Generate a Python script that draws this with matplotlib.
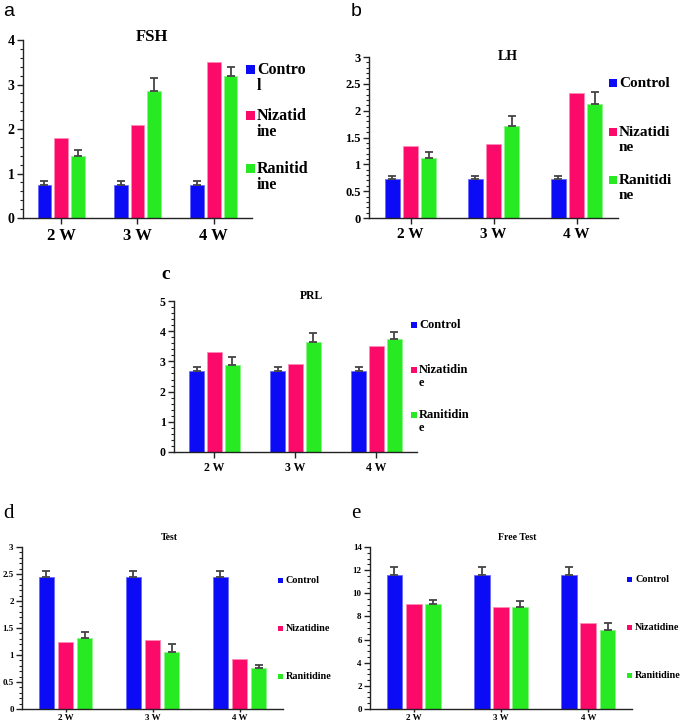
import matplotlib
matplotlib.use('Agg')
import matplotlib.pyplot as plt
from matplotlib.patches import Rectangle
from matplotlib.ticker import MultipleLocator, FuncFormatter
import numpy as np

W, H = 685, 724

weeks = ['2 W', '3 W', '4 W']
colors = ['#0b0bf5', '#fc0a6a', '#28ea23']
edge_colors = ['#6a6aff', '#ff8ab5', '#8af585']

# values per group (Control, Nizatidine, Ranitidine) over 2 W, 3 W, 4 W
fsh_control = [0.75, 0.75, 0.75]
fsh_nizatidine = [1.80, 2.10, 3.50]
fsh_ranitidine = [1.40, 2.85, 3.18]
fsh_control_err = [0.08, 0.08, 0.08]
fsh_ranitidine_err = [0.13, 0.30, 0.22]

lh_control = [0.73, 0.73, 0.73]
lh_nizatidine = [1.35, 1.38, 2.33]
lh_ranitidine = [1.11, 1.71, 2.12]
lh_control_err = [0.05, 0.05, 0.05]
lh_ranitidine_err = [0.12, 0.19, 0.23]

prl_control = [2.68, 2.68, 2.68]
prl_nizatidine = [3.30, 2.90, 3.50]
prl_ranitidine = [2.88, 3.63, 3.75]
prl_control_err = [0.12, 0.12, 0.12]
prl_ranitidine_err = [0.28, 0.32, 0.22]

test_control = [2.45, 2.45, 2.45]
test_nizatidine = [1.25, 1.27, 0.92]
test_ranitidine = [1.32, 1.06, 0.76]
test_control_err = [0.11, 0.11, 0.11]
test_ranitidine_err = [0.10, 0.14, 0.05]

ftest_control = [11.55, 11.55, 11.55]
ftest_nizatidine = [9.10, 8.85, 7.45]
ftest_ranitidine = [9.08, 8.85, 6.85]
ftest_control_err = [0.70, 0.70, 0.70]
ftest_ranitidine_err = [0.34, 0.45, 0.55]

SERIF = 'Liberation Serif'


def rect(left, top, right, bottom):
    # pixel box -> figure fraction
    return [left / W, 1 - bottom / H, (right - left) / W, (bottom - top) / H]


def fx(x):
    return x / W


def fy(y):
    return 1 - y / H


def draw_panel(ax, series, errs, ylim, major, minor, fs_y, fs_x, small=False):
    x = np.arange(3) + 0.5
    step, width = 0.22, 0.18
    for i, vals in enumerate(series):
        pos = x + (i - 1) * step
        ax.bar(pos, vals, width, color=colors[i], edgecolor=edge_colors[i],
               linewidth=0.6, zorder=2)
        if errs[i] is not None:
            ax.errorbar(pos, vals, yerr=[np.zeros(3), errs[i]], fmt='none',
                        ecolor='#444444', elinewidth=1.3, capsize=3,
                        capthick=1.3, zorder=3)
    ax.set_xlim(0, 3)
    ax.set_ylim(*ylim)
    ax.yaxis.set_major_locator(MultipleLocator(major))
    ax.yaxis.set_minor_locator(MultipleLocator(minor))
    ax.yaxis.set_major_formatter(FuncFormatter(lambda v, p: '{:g}'.format(v)))
    ax.set_xticks(x)
    ax.set_xticklabels(weeks)
    for s in ['top', 'right']:
        ax.spines[s].set_visible(False)
    for s in ['left', 'bottom']:
        ax.spines[s].set_color('#222222')
        ax.spines[s].set_linewidth(1.0)
    ax.tick_params(axis='y', which='major', length=4, width=1, colors='#222222', pad=2)
    ax.tick_params(axis='y', which='minor', length=2, width=0.8, colors='#222222')
    if small:
        ax.tick_params(axis='x', length=2.5, width=1, colors='#222222', pad=1)
    else:
        ax.tick_params(axis='x', length=4, width=1, colors='#222222', pad=3)
    for lab in ax.get_yticklabels():
        lab.set_fontfamily(SERIF)
        lab.set_fontweight('bold')
        lab.set_fontsize(fs_y)
        lab.set_color('black')
    for lab in ax.get_xticklabels():
        lab.set_fontfamily(SERIF)
        lab.set_fontweight('bold')
        lab.set_fontsize(fs_x)
        lab.set_color('black')


def draw_title(fig, text, xc, yc, fs):
    fig.text(fx(xc), fy(yc), text, ha='center', va='center',
             fontfamily=SERIF, fontweight='bold', fontsize=fs)


def draw_legend(fig, labels, sq_x, sq_w, text_x, baselines, fs, gap):
    for i, (lab, yb) in enumerate(zip(labels, baselines)):
        fig.add_artist(Rectangle((fx(sq_x), fy(yb)), sq_w / W, sq_w / H,
                                 transform=fig.transFigure,
                                 facecolor=colors[i], edgecolor='none'))
        for k, line in enumerate(lab.split('\n')):
            fig.text(fx(text_x), fy(yb + k * gap), line, ha='left',
                     va='baseline', fontfamily=SERIF, fontweight='bold',
                     fontsize=fs)


fig = plt.figure(figsize=(W / 100, H / 100), dpi=100)

# a - FSH
ax = fig.add_axes(rect(23, 40, 252, 218))
draw_panel(ax, [fsh_control, fsh_nizatidine, fsh_ranitidine],
           [fsh_control_err, None, fsh_ranitidine_err],
           (0, 4), 1, 0.2, 10, 12)
draw_title(fig, 'FSH', 152, 37, 12)
draw_legend(fig, ['Contro\nl', 'Nizatid\nine', 'Ranitid\nine'],
            246, 9, 257, [74, 120, 173], 11.5, 16)

# b - LH
ax = fig.add_axes(rect(369, 57, 618, 218))
draw_panel(ax, [lh_control, lh_nizatidine, lh_ranitidine],
           [lh_control_err, None, lh_ranitidine_err],
           (0, 3), 0.5, 0.1, 9, 11)
draw_title(fig, 'LH', 508, 56, 10)
draw_legend(fig, ['Control', 'Nizatidi\nne', 'Ranitidi\nne'],
            609, 8, 619, [87, 136, 184], 11, 15)

# c - PRL
ax = fig.add_axes(rect(174, 301, 417, 452))
draw_panel(ax, [prl_control, prl_nizatidine, prl_ranitidine],
           [prl_control_err, None, prl_ranitidine_err],
           (0, 5), 1, 0.2, 8.5, 8.5)
draw_title(fig, 'PRL', 311, 296, 8.5)
draw_legend(fig, ['Control', 'Nizatidin\ne', 'Ranitidin\ne'],
            411, 6, 419, [328, 373, 418], 9, 13)

# d - Test
ax = fig.add_axes(rect(22, 547, 283, 709))
draw_panel(ax, [test_control, test_nizatidine, test_ranitidine],
           [test_control_err, None, test_ranitidine_err],
           (0, 3), 0.5, 0.1, 6.5, 6.5, small=True)
draw_title(fig, 'Test', 169, 538, 7)
draw_legend(fig, ['Control', 'Nizatidine', 'Ranitidine'],
            278, 5, 286, [583, 631, 679], 7.3, 10)

# e - Free Test
ax = fig.add_axes(rect(370, 547, 632, 709))
draw_panel(ax, [ftest_control, ftest_nizatidine, ftest_ranitidine],
           [ftest_control_err, None, ftest_ranitidine_err],
           (0, 14), 2, 0.5, 6.5, 6.5, small=True)
draw_title(fig, 'Free Test', 517, 538, 7)
draw_legend(fig, ['Control', 'Nizatidine', 'Ranitidine'],
            627, 5, 635, [582, 630, 678], 7.3, 10)

# panel letters
fig.text(fx(3), fy(16), 'a', fontfamily='Liberation Sans', fontsize=14, va='baseline')
fig.text(fx(351), fy(16), 'b', fontfamily='Liberation Sans', fontsize=14, va='baseline')
fig.text(fx(161), fy(279), 'c', fontfamily=SERIF, fontweight='bold', fontsize=14, va='baseline')
fig.text(fx(3), fy(518), 'd', fontfamily=SERIF, fontsize=15, va='baseline')
fig.text(fx(351), fy(518), 'e', fontfamily=SERIF, fontsize=15, va='baseline')

fig.savefig('out.png', dpi=100)
